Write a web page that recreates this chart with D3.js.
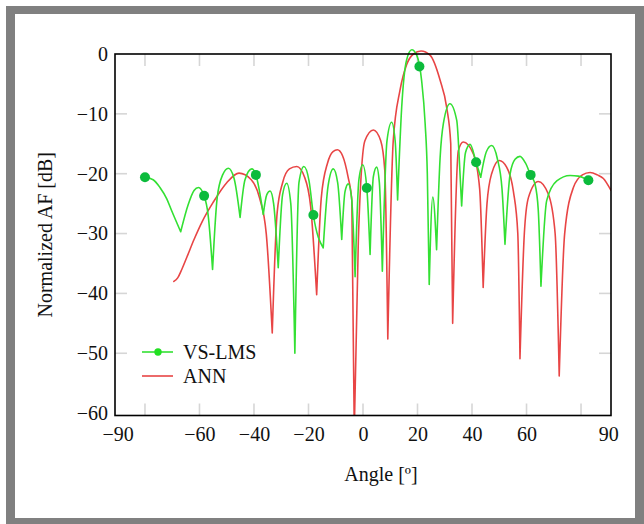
<!DOCTYPE html>
<html>
<head>
<meta charset="utf-8">
<script src="https://cdn.jsdelivr.net/npm/d3@7"></script>
<style>
body { margin: 0; background: #fff; }
svg text { font-family: "Liberation Serif", "Times New Roman", serif; fill: #111; }
</style>
</head>
<body>
<script>
// axis ticks
var xLabels = [-90, -60, -40, -20, 0, 20, 40, 60, 90];
var xStubs = [-80, -60, -40, -20, 0, 20, 40, 60, 80];
var yLabels = [0, -10, -20, -30, -40, -50, -60];
var yStubs = [-10, -20, -30, -40, -50];

// VS-LMS pattern, [angle, dB]
var vsLms = [
	[-80, -20.6], [-77, -21.0], [-74.5, -22.3], [-72, -24.2], [-70.2, -26.2], [-66.9, -29.7],
	[-64.1, -25.1], [-62, -22.8], [-60.4, -22.3], [-58.3, -23.7], [-56.8, -27], [-55.2, -36.0],
	[-53.5, -24], [-51.5, -20.2], [-49.4, -19.1], [-47.3, -20.8], [-45.1, -27.3],
	[-43.3, -21], [-40.8, -19.2], [-39.3, -20.2], [-36.6, -26.8],
	[-35.3, -23.5], [-34.1, -22.9], [-32.8, -25], [-31.1, -35.7],
	[-29.5, -23.5], [-28.0, -21.6], [-26.5, -25], [-25.0, -50.0],
	[-23.5, -21.5], [-21.7, -18.8], [-19.8, -21.2], [-18.2, -26.9], [-14.6, -32.4],
	[-12.8, -22], [-10.9, -19.2], [-9.3, -21.5], [-7.8, -31.0],
	[-6.6, -23], [-5.4, -21.7], [-4.2, -24], [-2.9, -37.2],
	[-1.5, -21], [-0.1, -18.5], [1.4, -22.4], [2.6, -33.5],
	[3.8, -20.5], [5.0, -18.9], [6.0, -21.5], [7.1, -36.3],
	[8.8, -14.5], [10.5, -11.4], [11.8, -14.5], [12.7, -24.4],
	[14.2, -8.9], [16.0, -1.0], [17.9, 0.7], [19.7, -0.2], [21.5, -4.4], [22.8, -11.6], [23.6, -20.0], [24.3, -38.5],
	[25.6, -23.9], [27.0, -32.7],
	[28.3, -17.3], [29.5, -11.6], [31.9, -8.3], [34.4, -11.1], [35.6, -20], [36.2, -25.4],
	[37.6, -16.5], [39.3, -15.1], [41.5, -18.1], [43.2, -20.6],
	[45.3, -16.3], [47.2, -15.3], [49.3, -17.5], [51.0, -22.5], [52.1, -31.8],
	[54, -20], [55.8, -17.6], [57.6, -17.1], [59.6, -18.2], [61.5, -20.2], [63.1, -21.7], [64.3, -26], [65.3, -38.8],
	[67.4, -24.5], [71.1, -21.2], [76, -20.3], [79, -20.4], [81, -20.7], [82.7, -21.1]
];
var vsMarkers = [
	[-80, -20.6], [-58.3, -23.7], [-39.3, -20.2], [-18.2, -26.9], [1.4, -22.4],
	[20.7, -2.1], [41.5, -18.1], [61.5, -20.2], [82.7, -21.1]
];

// ANN pattern
var ann = [
	[-69.4, -38.0], [-68, -37.4], [-66.5, -36.0], [-64.5, -33.8], [-62, -31.0], [-59, -28.0], [-55, -24.8], [-50, -21.5],
	[-45.5, -19.9], [-41, -21.0], [-38, -24.0], [-35.5, -30.0], [-33.3, -46.6],
	[-31.5, -26.5], [-29.5, -21.5], [-27, -19.2], [-24.3, -18.8], [-21.5, -20.5], [-19.2, -25.5], [-17.0, -40.2],
	[-15.3, -24], [-13, -18.2], [-11, -16.3], [-9.4, -16.0], [-7.5, -17], [-5.5, -20.5], [-4.1, -24.5], [-3.2, -63],
	[-1.7, -31], [0.7, -14.5], [3.8, -12.7], [6.5, -14.5], [8.0, -19.5], [9.1, -47.6],
	[11.1, -14.5], [13.6, -6.0], [16.0, -1.8], [18.5, 0.0], [21.3, 0.5], [24.6, -0.2], [28.3, -4.4], [30.7, -8.9], [32.2, -15], [32.9, -45.0],
	[35.0, -16.1], [36.8, -14.7], [40.5, -16.7], [42.8, -22.5], [44.1, -39.0],
	[45.5, -25], [47.2, -20], [50.0, -17.8], [52.7, -18.9], [55.2, -23], [56.8, -30], [57.6, -50.9],
	[59.2, -30], [60.7, -24], [64.3, -21.3], [68.0, -23.4], [70.5, -30], [72.0, -53.8],
	[74, -30], [77.2, -22.3], [80.5, -20.2], [83.3, -19.8], [86, -20.2], [88.2, -20.8], [91, -22.8]
];

var W = 644, H = 524;
var svg = d3.select("body").append("svg").attr("width", W).attr("height", H);

// grey frame round the figure
svg.append("rect").attr("x", 6).attr("y", 6).attr("width", W - 6).attr("height", H - 6).attr("fill", "#808080");
svg.append("rect").attr("x", 15).attr("y", 14).attr("width", 620).attr("height", 504).attr("fill", "#fff");

var x = d3.scaleLinear().domain([-91, 91]).range([115, 611]);
var y = d3.scaleLinear().domain([-60.4, 0]).range([415.5, 54]);
var x0 = x.range()[0], x1 = x.range()[1], yTop = y.range()[1], yBot = y.range()[0];

// short grey tick stubs on all four sides
var stubs = svg.append("g").attr("stroke", "#d6d6d6").attr("stroke-width", 1.6);
xStubs.forEach(function(v){
	stubs.append("line").attr("x1", x(v)).attr("x2", x(v)).attr("y1", yTop).attr("y2", yTop + 12);
	stubs.append("line").attr("x1", x(v)).attr("x2", x(v)).attr("y1", yBot).attr("y2", yBot - 12);
});
yStubs.forEach(function(v){
	stubs.append("line").attr("y1", y(v)).attr("y2", y(v)).attr("x1", x0).attr("x2", x0 + 12);
	stubs.append("line").attr("y1", y(v)).attr("y2", y(v)).attr("x1", x1).attr("x2", x1 - 12);
});

// tick labels
var gx = svg.append("g").attr("transform", "translate(0," + yBot + ")")
	.call(d3.axisBottom(x).tickValues(xLabels).tickSize(0).tickPadding(11));
var gy = svg.append("g").attr("transform", "translate(" + x0 + ",0)")
	.call(d3.axisLeft(y).tickValues(yLabels).tickSize(0).tickPadding(7));
svg.selectAll("g.tick text").attr("font-size", 20).attr("font-family", null).attr("fill", "#111");
gx.attr("font-family", null); gy.attr("font-family", null);
gx.select(".domain").remove(); gy.select(".domain").remove();

// curves, split at the nulls so the dips stay sharp
svg.append("clipPath").attr("id", "plotclip").append("rect")
	.attr("x", x0).attr("y", yTop - 20).attr("width", x1 - x0).attr("height", yBot - yTop + 20);

function splitAtNulls(pts){
	var segs = [], cur = [pts[0]];
	for (var i = 1; i < pts.length; i++) {
		cur.push(pts[i]);
		if (i < pts.length - 1 && pts[i][1] < pts[i-1][1] && pts[i][1] < pts[i+1][1]) {
			segs.push(cur);
			cur = [pts[i]];
		}
	}
	segs.push(cur);
	return segs;
}
var line = d3.line().x(function(d){ return x(d[0]); }).y(function(d){ return y(d[1]); }).curve(d3.curveMonotoneX);

var view = svg.append("g").attr("clip-path", "url(#plotclip)");
view.append("path").attr("d", splitAtNulls(ann).map(function(s){ return line(s); }).join(""))
	.attr("fill", "none").attr("stroke", "#e84545").attr("stroke-width", 1.6).attr("stroke-linecap", "round");
view.append("path").attr("d", splitAtNulls(vsLms).map(function(s){ return line(s); }).join(""))
	.attr("fill", "none").attr("stroke", "#33e033").attr("stroke-width", 1.6).attr("stroke-linecap", "round");
view.selectAll("circle.mk").data(vsMarkers).enter().append("circle").attr("class", "mk")
	.attr("cx", function(d){ return x(d[0]); }).attr("cy", function(d){ return y(d[1]); })
	.attr("r", 5).attr("fill", "#0cbb3c");

// axis box
svg.append("rect").attr("x", x0).attr("y", yTop).attr("width", x1 - x0).attr("height", yBot - yTop)
	.attr("fill", "none").attr("stroke", "#000").attr("stroke-width", 1.6);

// axis titles
svg.append("text").attr("x", 381).attr("y", 481).attr("text-anchor", "middle").attr("font-size", 20).text("Angle [º]");
svg.append("text").attr("transform", "translate(52," + ((yTop + yBot) / 2) + ") rotate(-90)")
	.attr("text-anchor", "middle").attr("font-size", 20).text("Normalized AF [dB]");

// legend
var lg = svg.append("g");
lg.append("line").attr("x1", 142).attr("x2", 173).attr("y1", 352).attr("y2", 352).attr("stroke", "#33e033").attr("stroke-width", 1.6);
lg.append("circle").attr("cx", 158).attr("cy", 352).attr("r", 3.7).attr("fill", "#22e022");
lg.append("text").attr("x", 183).attr("y", 359).attr("font-size", 20).text("VS-LMS");
lg.append("line").attr("x1", 142).attr("x2", 173).attr("y1", 376).attr("y2", 376).attr("stroke", "#e84545").attr("stroke-width", 1.6);
lg.append("text").attr("x", 183).attr("y", 383).attr("font-size", 20).text("ANN");
</script>
</body>
</html>
